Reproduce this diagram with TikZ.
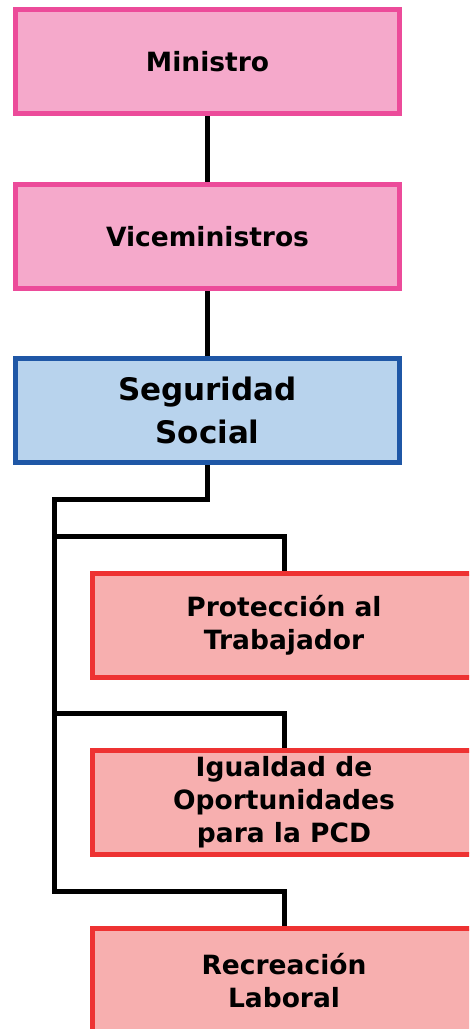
\documentclass[tikz,border=0pt]{standalone}
\usepackage{fontspec}
\setmainfont{DejaVu Sans}
\definecolor{pinkfill}{RGB}{245,169,203}
\definecolor{pinkline}{RGB}{236,75,154}
\definecolor{bluefill}{RGB}{184,211,237}
\definecolor{blueline}{RGB}{31,87,166}
\definecolor{redfill}{RGB}{247,175,175}
\definecolor{redline}{RGB}{238,50,50}
\tikzset{
  orgbox/.style={rectangle, line width=5pt, minimum width=384pt, minimum height=104pt,
    inner sep=0pt, align=center, font=\bfseries\fontsize{26.5}{33}\selectfont},
  pinkbox/.style={orgbox, draw=pinkline, fill=pinkfill},
  bluebox/.style={orgbox, draw=blueline, fill=bluefill, font=\bfseries\fontsize{31}{43}\selectfont},
  redbox/.style={orgbox, draw=redline, fill=redfill},
  conn/.style={line width=5pt, draw=black, line join=miter}
}
\begin{document}
\begin{tikzpicture}[x=1pt,y=1pt]
\useasboundingbox (0,0) rectangle (469,-1029);
\clip (0,0) rectangle (469,-1029);
\node[pinkbox] (min) at (207.5,-61.5) {Ministro};
\node[pinkbox] (vice) at (207.5,-236.5) {Viceministros};
\node[bluebox] (seg) at (207.5,-410.5) {Seguridad\\Social};
\node[redbox] (prot) at (284,-625.5) {Protección al\\Trabajador};
\node[redbox] (igu) at (284,-802) {Igualdad de\\Oportunidades\\para la PCD};
\node[redbox] (rec) at (284,-980.5) {Recreación\\Laboral};
\coordinate (j) at (54.5,-499);
\coordinate (b1) at (54.5,-536);
\coordinate (b2) at (54.5,-713);
\coordinate (b3) at (54.5,-891);
\draw[conn] (min.south) -- (vice.north);
\draw[conn] (vice.south) -- (seg.north);
\draw[conn] (seg.south) |- (j) -- (b3) -| (rec.north);
\draw[conn] (b1) -| (prot.north);
\draw[conn] (b2) -| (igu.north);
\end{tikzpicture}
\end{document}
